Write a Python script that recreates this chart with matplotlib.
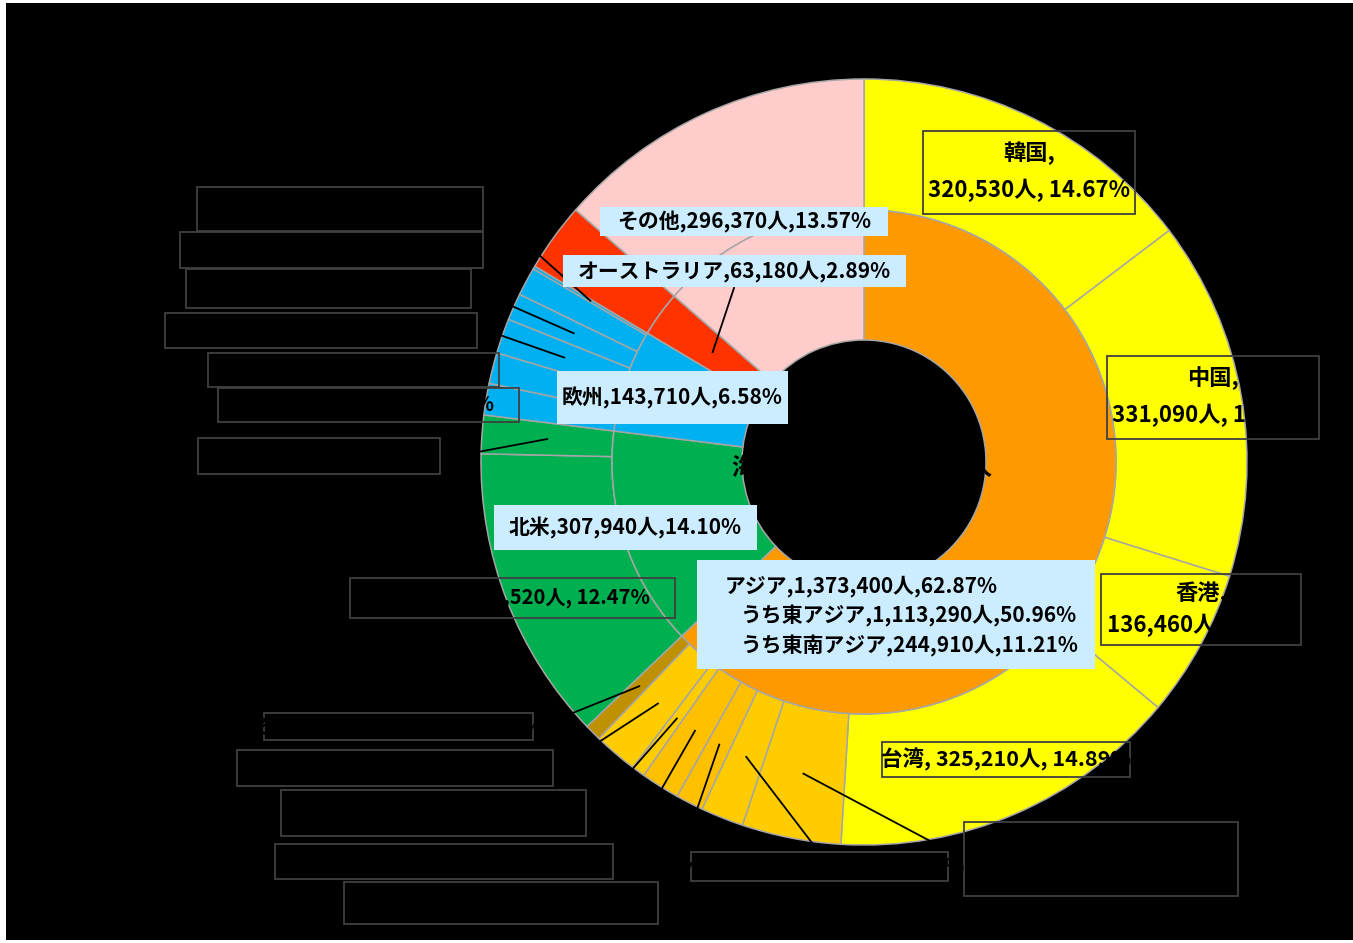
import matplotlib
matplotlib.use('Agg')
import numpy as np
import matplotlib.pyplot as plt
from matplotlib.patches import Rectangle

plt.rcParams['font.family'] = ['Noto Sans CJK JP', 'DejaVu Sans']

# canvas in pixels, donut centre and radii
W, H = 1353, 943
CX, CY = 864, 462
R_OUT, R_MID, R_IN = 383, 252, 122

# inner ring: regions
region_names = ['アジア', '北米', '欧州', 'オーストラリア', 'その他']
region_values = [1373400, 307940, 143710, 63180, 296370]
region_colors = ['#FF9900', '#00B050', '#00B0F0', '#FF3300', '#FFCCCC']

# outer ring: countries (clockwise from the top)
country_names = ['韓国', '中国', '香港', '台湾',
                 'タイ', 'シンガポール', 'マレーシア', 'インドネシア', 'ベトナム', 'フィリピン',
                 'その他アジア', 'アメリカ', 'カナダ',
                 'イギリス', 'フランス', 'ドイツ', 'イタリア', 'スペイン', 'ロシア',
                 'オーストラリア', 'その他']
country_values = [320530, 331090, 136460, 325210,
                  91410, 39400, 25500, 35800, 12100, 40700,
                  15200, 272520, 35420,
                  29100, 28500, 32200, 24900, 26100, 2910,
                  63180, 296370]
country_colors = ['#FFFF00'] * 4 + \
                 ['#FFCC00', '#FFCC00', '#FFC000', '#FFC000', '#FFCC00', '#FFCC00'] + \
                 ['#BF9000', '#00B050', '#00B050'] + ['#00B0F0'] * 6 + \
                 ['#FF3300', '#FFCCCC']

total = sum(region_values)
east_asia = sum(country_values[0:4])
southeast_asia = sum(country_values[4:10])

# label boxes of the outer ring (pixel layout): box, number of lines, leader target, font size
outer_labels = {
    '韓国': ((923, 131, 1135, 214), 2, None, 16),
    '中国': ((1107, 356, 1319, 439), 2, None, 16),
    '香港': ((1101, 574, 1301, 645), 2, None, 16),
    '台湾': ((882, 742, 1130, 777), 1, None, 15.5),
    'タイ': ((964, 822, 1238, 896), 2, (964, 859), 14.5),
    'シンガポール': ((691, 852, 948, 881), 1, (819, 852), 14.5),
    'マレーシア': ((344, 882, 658, 924), 1, (672, 882), 14.5),
    'インドネシア': ((275, 844, 613, 879), 1, (630, 844), 14.5),
    'ベトナム': ((281, 790, 586, 836), 1, (586, 822), 14.5),
    'フィリピン': ((237, 750, 553, 786), 1, (553, 772), 14.5),
    'その他アジア': ((264, 713, 533, 740), 1, (533, 729), 14.5),
    'アメリカ': ((350, 578, 675, 618), 1, None, 14.5),
    'カナダ': ((198, 438, 440, 474), 1, (440, 459), 14.5),
    'イギリス': ((218, 388, 519, 422), 1, None, 14.5),
    'フランス': ((208, 353, 499, 387), 1, None, 14.5),
    'ドイツ': ((165, 313, 477, 348), 1, (477, 327), 14.5),
    'イタリア': ((186, 269, 471, 308), 1, (471, 288), 14.5),
    'スペイン': ((180, 232, 483, 268), 1, None, 14.5),
    'ロシア': ((197, 187, 483, 231), 1, (483, 205), 14.5),
}

# inner ring label boxes (light blue)
inner_boxes = {
    'その他': (600, 207, 888, 236),
    'オーストラリア': (563, 255, 906, 287),
    '欧州': (557, 371, 788, 424),
    '北米': (494, 505, 757, 550),
}
asia_box = (697, 560, 1095, 669)

fig = plt.figure(figsize=(W / 100, H / 100), dpi=100, facecolor='white')
ax = fig.add_axes([0, 0, 1, 1])

outer_w, _ = ax.pie(country_values, radius=R_OUT, center=(CX, CY), colors=country_colors,
                    startangle=-90, counterclock=True,
                    wedgeprops=dict(width=R_OUT - R_MID, edgecolor='#A6A6A6', linewidth=1.1))
inner_w, _ = ax.pie(region_values, radius=R_MID, center=(CX, CY), colors=region_colors,
                    startangle=-90, counterclock=True,
                    wedgeprops=dict(width=R_MID - R_IN, edgecolor='#A6A6A6', linewidth=1.1))

ax.add_patch(Rectangle((6, 3), W - 6, 937, facecolor='black', edgecolor='none', zorder=-5))
ax.set_xlim(0, W)
ax.set_ylim(H, 0)
ax.set_aspect('equal')
ax.set_axis_off()


def anchor(wedge, r):
    mid = np.deg2rad((wedge.theta1 + wedge.theta2) / 2)
    return CX + r * np.cos(mid), CY + r * np.sin(mid)


fs_in = 15
# outer labels (black text, dark grey frame)
for i, name in enumerate(country_names):
    if name not in outer_labels:
        continue
    (x0, y0, x1, y1), nlines, target, fs = outer_labels[name]
    v = country_values[i]
    pct = v / total * 100
    if target is not None:
        ax_, ay_ = anchor(outer_w[i], (R_OUT + R_MID) / 2)
        ax.plot([ax_, target[0]], [ay_, target[1]], color='black', lw=1.3, zorder=4)
    ax.add_patch(Rectangle((x0, y0), x1 - x0, y1 - y0, facecolor='none',
                           edgecolor='#404040', lw=1.3, zorder=5))
    xc = (x0 + x1) / 2
    if nlines == 2:
        h = y1 - y0
        ax.text(xc, y0 + h * 0.27, name + ',', ha='center', va='center',
                fontsize=fs, fontweight='bold', color='black', zorder=6)
        ax.text(xc, y0 + h * 0.72, f'{v:,}人, {pct:.2f}%', ha='center', va='center',
                fontsize=fs, fontweight='bold', color='black', zorder=6)
    else:
        ax.text(xc, (y0 + y1) / 2, f'{name}, {v:,}人, {pct:.2f}%', ha='center', va='center',
                fontsize=fs, fontweight='bold', color='black', zorder=6)

# leader of the Australia label to its inner wedge
ax_, ay_ = anchor(inner_w[3], (R_MID + R_IN) / 2)
ax.plot([ax_, 734], [ay_, 288], color='black', lw=1.3, zorder=4)

# inner labels on light blue
for i, name in enumerate(region_names):
    if name not in inner_boxes:
        continue
    x0, y0, x1, y1 = inner_boxes[name]
    v = region_values[i]
    ax.add_patch(Rectangle((x0, y0), x1 - x0, y1 - y0, facecolor='#CCECFF',
                           edgecolor='none', zorder=5))
    ax.text((x0 + x1) / 2, (y0 + y1) / 2, f'{name},{v:,}人,{v / total * 100:.2f}%',
            ha='center', va='center', fontsize=fs_in, fontweight='bold', color='black', zorder=6)

x0, y0, x1, y1 = asia_box
ax.add_patch(Rectangle((x0, y0), x1 - x0, y1 - y0, facecolor='#CCECFF', edgecolor='none', zorder=5))
asia_lines = [
    (725, f'{region_names[0]},{region_values[0]:,}人,{region_values[0] / total * 100:.2f}%'),
    (740, f'うち東アジア,{east_asia:,}人,{east_asia / total * 100:.2f}%'),
    (740, f'うち東南アジア,{southeast_asia:,}人,{southeast_asia / total * 100:.2f}%'),
]
for k, (lx, s) in enumerate(asia_lines):
    ax.text(lx, 586 + 30 * k, s, ha='left', va='center', fontsize=fs_in,
            fontweight='bold', color='black', zorder=6)

# centre title (black on black)
ax.text(CX - 2, 467, f'海外客数計 {total:,}人', ha='center', va='center',
        fontsize=17, fontweight='bold', color='black', zorder=6)

fig.savefig('out.png', dpi=100, facecolor='white')
